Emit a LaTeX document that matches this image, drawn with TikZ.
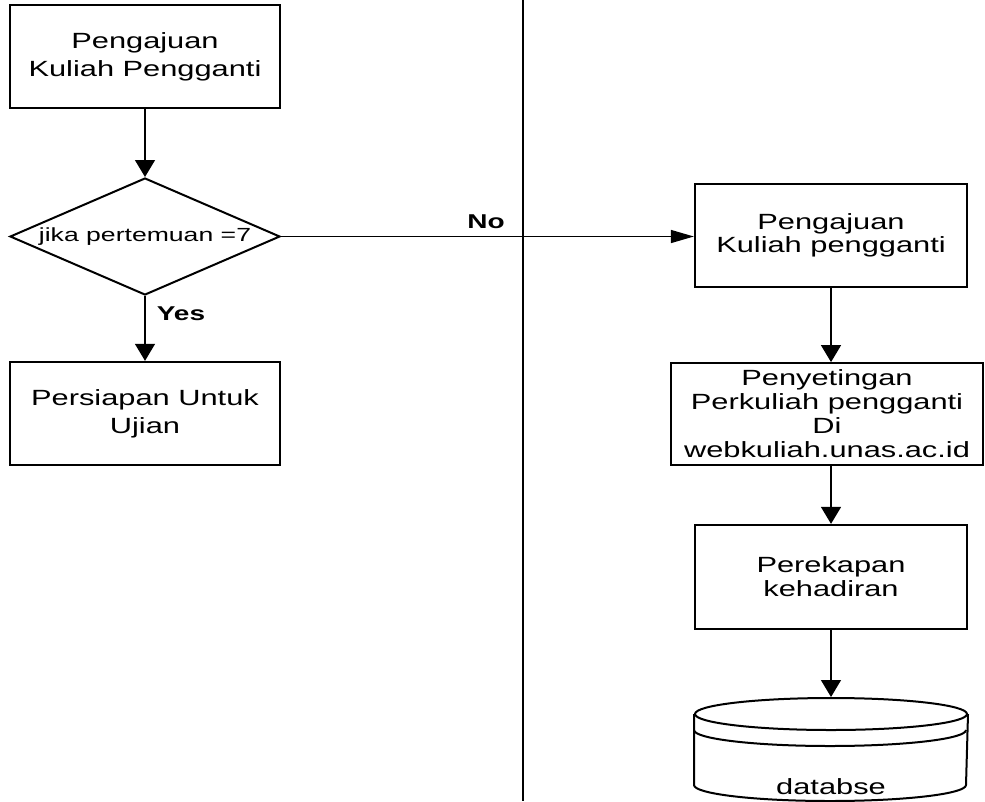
\documentclass[tikz,border=0pt]{standalone}
\usepackage{fontspec}
\setmainfont{Liberation Sans}[FakeStretch=1.4]
\usetikzlibrary{arrows.meta,shapes.geometric}

\newcommand{\boxfont}[1]{\fontsize{22}{#1}\selectfont}

\tikzset{
    proses/.style={draw, rectangle, line width=2.3pt, inner sep=2pt, align=center, minimum width=272pt, minimum height=103pt},
    keputusan/.style={draw, diamond, line width=2pt, inner sep=0pt, minimum width=270pt, minimum height=117pt, font=\fontsize{19}{22}\selectfont},
    panah/.style={line width=1.4pt, -{Triangle[length=17pt,width=20pt]}},
    panahh/.style={line width=1.4pt, -{Triangle[length=23pt,width=13pt]}},
    ket/.style={font=\fontsize{20}{22}\selectfont\bfseries}
}

\begin{document}
\begin{tikzpicture}[x=1pt,y=-1pt]
    \useasboundingbox (0,0) rectangle (985,801);

    % Lane divider
    \draw[line width=2pt] (523,0) -- (523,801);

    % Left lane
    \node[proses, minimum width=270pt, font=\boxfont{28}] (pengajuan) at (145,56.5) {Pengajuan\\Kuliah Pengganti};
    \node[keputusan] (cek) at (145,236.5) {\makebox[0pt]{jika pertemuan =7}};
    \node[proses, minimum width=270pt, font=\boxfont{28}] (persiapan) at (145,413.5) {Persiapan Untuk\\Ujian};

    % Right lane
    \node[proses, font=\boxfont{23}] (ajukan) at (831,235.5) {Pengajuan\\Kuliah pengganti};
    \node[proses, line width=1.8pt, minimum width=312pt, minimum height=102pt, font=\boxfont{24}] (setting) at (827,414) {Penyetingan\\Perkuliah pengganti\\Di\\webkuliah.unas.ac.id};
    \node[proses, minimum height=104pt, font=\boxfont{24}] (rekap) at (831,577) {Perekapan\\kehadiran};

    % Database
    \node[ellipse, draw, line width=2pt, inner sep=0pt, minimum width=272pt, minimum height=32pt] (db) at (831,714) {};
    \draw[line width=2pt] (db.west) ++(0,16) arc[start angle=180, end angle=360, x radius=136pt, y radius=16pt];
    \draw[line width=2pt] (db.west) -- ++(0,71) arc[start angle=180, end angle=360, x radius=136pt, y radius=16pt] -- (db.east);
    \node[anchor=base, font=\boxfont{24}] (dbteks) at (831,794) {databse};

    % Connectors
    \draw[panah] (pengajuan) -- (cek);
    \draw[panah] (cek) -- (persiapan);
    \draw[panahh] (cek.east) -- (cek.east -| ajukan.west);
    \draw[panah] (ajukan.south) -- (ajukan.south |- setting.north);
    \draw[panah] (rekap.north |- setting.south) -- (rekap.north);
    \draw[panah] (rekap) -- (db);

    % Labels
    \node[ket] (ya) at (181,314) {Yes};
    \node[ket] (tidak) at (486,222) {No};
\end{tikzpicture}
\end{document}
